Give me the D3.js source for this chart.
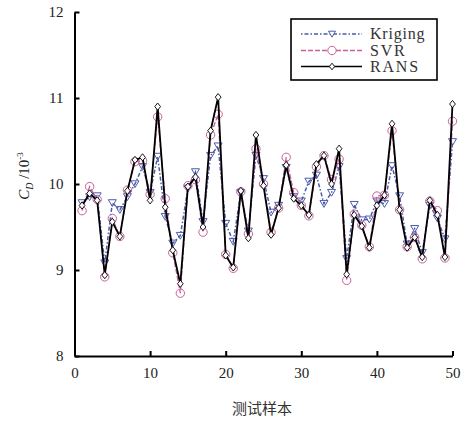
<!DOCTYPE html>
<html>
<head>
<meta charset="utf-8">
<script src="https://cdn.jsdelivr.net/npm/d3@7"></script>
<style>
  body { margin: 0; background: #fff; }
  svg text { font-family: "Liberation Serif", "DejaVu Serif", serif; fill: #222; }
</style>
</head>
<body>
<svg class="main-chart" width="468" height="421"></svg>
<script>
// test samples 1..50
var samples = d3.range(1, 51);

var kriging = [9.78, 9.85, 9.86, 9.08, 9.78, 9.70, 9.85, 10.00, 10.20, 9.90,
               10.32, 9.62, 9.31, 9.40, 9.95, 10.14, 9.56, 10.33, 10.44, 9.54,
               9.33, 9.90, 9.45, 10.33, 10.06, 9.67, 9.75, 10.19, 9.85, 9.80,
               10.03, 10.10, 9.77, 9.90, 10.20, 9.13, 9.76, 9.58, 9.59, 9.80,
               9.77, 10.21, 9.86, 9.30, 9.48, 9.20, 9.75, 9.60, 9.36, 10.49];

var svr = [9.69, 9.97, 9.82, 8.92, 9.60, 9.39, 9.93, 10.26, 10.27, 9.88,
           10.78, 9.83, 9.20, 8.73, 9.98, 10.05, 9.44, 10.57, 10.81, 9.18,
           9.02, 9.91, 9.42, 10.41, 10.00, 9.44, 9.72, 10.31, 9.90, 9.75,
           9.63, 10.20, 10.33, 10.05, 10.29, 8.88, 9.65, 9.52, 9.27, 9.86,
           9.87, 10.62, 9.70, 9.27, 9.38, 9.13, 9.80, 9.69, 9.14, 10.73];

var rans = [9.75, 9.89, 9.81, 8.94, 9.56, 9.39, 9.92, 10.28, 10.31, 9.81,
            10.90, 9.73, 9.23, 8.84, 9.97, 10.08, 9.50, 10.62, 11.01, 9.17,
            9.03, 9.92, 9.37, 10.57, 9.98, 9.41, 9.72, 10.22, 9.83, 9.75,
            9.64, 10.23, 10.33, 10.00, 10.41, 8.95, 9.64, 9.51, 9.26, 9.75,
            9.87, 10.70, 9.70, 9.26, 9.38, 9.15, 9.81, 9.64, 9.15, 10.93];

var xTicks = [0, 10, 20, 30, 40, 50];
var yTicks = [8, 9, 10, 11, 12];
var seriesNames = ["Kriging", "SVR", "RANS"];

var svg = d3.select("svg.main-chart");

var xScale = d3.scaleLinear().domain([0, 50]).range([74.5, 452.5]);
var yScale = d3.scaleLinear().domain([8, 12]).range([356, 12]);

var xAxis = d3.axisBottom(xScale).tickValues(xTicks).tickFormat(d3.format("d"))
  .tickSizeInner(-5).tickSizeOuter(0).tickPadding(11);
var yAxis = d3.axisLeft(yScale).tickValues(yTicks).tickFormat(d3.format("d"))
  .tickSizeInner(-5).tickSizeOuter(0).tickPadding(11);

svg.append("g").attr("id", "xAxisG").attr("transform", "translate(0,356)").call(xAxis);
svg.append("g").attr("id", "yAxisG").attr("transform", "translate(74.5,0)").call(yAxis);

svg.selectAll("#xAxisG path, #yAxisG path").attr("stroke", "#000").attr("stroke-width", 2);
svg.selectAll("#xAxisG line, #yAxisG line").attr("stroke", "#000").attr("stroke-width", 2);
svg.selectAll("#xAxisG text, #yAxisG text")
  .style("font-family", "'Liberation Serif', serif")
  .style("font-size", "15px")
  .style("fill", "#222");

// axis titles
svg.append("text")
  .attr("x", 262)
  .attr("y", 414)
  .attr("text-anchor", "middle")
  .style("font-family", "'Noto Sans CJK SC', sans-serif")
  .style("font-size", "15px")
  .style("fill", "#333")
  .text("测试样本");

var yTitle = svg.append("text")
  .attr("transform", "translate(29,176)rotate(-90)")
  .attr("text-anchor", "middle")
  .style("font-size", "15px");
yTitle.append("tspan").style("font-style", "italic").text("C");
yTitle.append("tspan").style("font-style", "italic").style("font-size", "10px").attr("dy", 4).text("D");
yTitle.append("tspan").attr("dy", -4).text(" /10");
yTitle.append("tspan").style("font-size", "9px").attr("dy", -6).text("-3");

// series
var line = d3.line()
  .x((d, i) => xScale(samples[i]))
  .y((d) => yScale(d));

function drawSeries(values, color, dash, width) {
  svg.append("path")
    .datum(values)
    .attr("d", line)
    .attr("fill", "none")
    .attr("stroke", color)
    .attr("stroke-width", width)
    .attr("stroke-dasharray", dash);
}

var triangle = function(cx, cy, s) {
  return "M" + (cx - s) + "," + (cy - s * 0.8) + "L" + (cx + s) + "," + (cy - s * 0.8) + "L" + cx + "," + (cy + s * 0.9) + "Z";
};
var diamond = function(cx, cy, s) {
  return "M" + cx + "," + (cy - s) + "L" + (cx + s * 0.8) + "," + cy + "L" + cx + "," + (cy + s) + "L" + (cx - s * 0.8) + "," + cy + "Z";
};

// Kriging
drawSeries(kriging, "#4a5bab", "1.5,2,4,2", 1.5);
svg.selectAll("path.tri")
  .data(kriging)
  .enter()
  .append("path")
  .attr("class", "tri")
  .attr("d", (d, i) => triangle(xScale(samples[i]), yScale(d), 4))
  .attr("fill", "none")
  .attr("stroke", "#4a5bab")
  .attr("stroke-width", 1);

// SVR
drawSeries(svr, "#c8609a", "5,2", 1.3);
svg.selectAll("circle.svr")
  .data(svr)
  .enter()
  .append("circle")
  .attr("class", "svr")
  .attr("r", 4.2)
  .attr("cx", (d, i) => xScale(samples[i]))
  .attr("cy", (d) => yScale(d))
  .attr("fill", "none")
  .attr("stroke", "#c8609a")
  .attr("stroke-width", 1);

// RANS
drawSeries(rans, "#000", null, 1.8);
svg.selectAll("path.dia")
  .data(rans)
  .enter()
  .append("path")
  .attr("class", "dia")
  .attr("d", (d, i) => diamond(xScale(samples[i]), yScale(d), 3.6))
  .attr("fill", "#fff")
  .attr("stroke", "#000")
  .attr("stroke-width", 0.9);

// legend
var legend = svg.append("g").attr("transform", "translate(291,19)");
legend.append("rect")
  .attr("width", 146).attr("height", 61)
  .attr("fill", "#fff").attr("stroke", "#000").attr("stroke-width", 1.6);

var legendY = [15, 31.5, 47.5];
var legendColor = ["#4a5bab", "#c8609a", "#000"];
var legendDash = ["1.5,2,4,2", "5,2", null];

seriesNames.forEach(function(name, k) {
  var y = legendY[k];
  legend.append("line")
    .attr("x1", 10).attr("x2", 71).attr("y1", y).attr("y2", y)
    .attr("stroke", legendColor[k])
    .attr("stroke-width", 1.3)
    .attr("stroke-dasharray", legendDash[k]);
  if (k == 0) {
    legend.append("path").attr("d", triangle(41, y, 3.5)).attr("fill", "#fff").attr("stroke", legendColor[k]);
  } else if (k == 1) {
    legend.append("circle").attr("cx", 41).attr("cy", y).attr("r", 4.2).attr("fill", "#fff").attr("stroke", legendColor[k]);
  } else {
    legend.append("path").attr("d", diamond(41, y, 3.3)).attr("fill", "#fff").attr("stroke", "#000").attr("stroke-width", 0.9);
  }
  legend.append("text")
    .attr("x", 79).attr("y", y + 5)
    .style("font-size", "16px")
    .style("fill", "#333")
    .style("letter-spacing", k == 0 ? "0.8px" : "1.8px")
    .text(name);
});
</script>
</body>
</html>
